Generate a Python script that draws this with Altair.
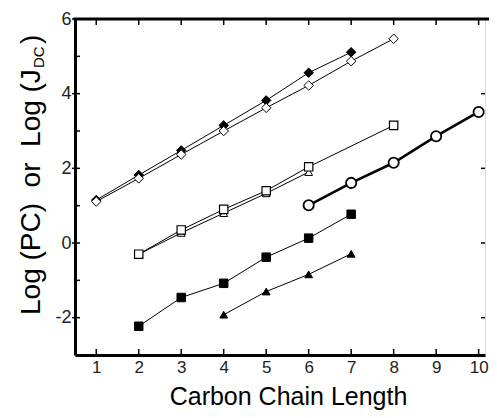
import altair as alt
import pandas as pd

# ---- data ----
a_x = [1, 2, 3, 4, 5, 6, 7]                      # filled diamonds
a_y = [1.15, 1.82, 2.48, 3.15, 3.82, 4.56, 5.11]
b_x = [1, 2, 3, 4, 5, 6, 7, 8]                   # open diamonds
b_y = [1.11, 1.73, 2.37, 3.00, 3.62, 4.22, 4.87, 5.47]
c_x = [2, 3, 4, 5, 6, 8]                         # open squares
c_y = [-0.30, 0.35, 0.90, 1.40, 2.04, 3.15]
d_x = [2, 3, 4, 5, 6]                            # open triangles
d_y = [-0.30, 0.27, 0.80, 1.33, 1.90]
e_x = [6, 7, 8, 9, 10]                           # open circles
e_y = [1.01, 1.61, 2.15, 2.86, 3.51]
f_x = [2, 3, 4, 5, 6, 7]                         # filled squares
f_y = [-2.23, -1.46, -1.08, -0.38, 0.13, 0.77]
g_x = [4, 5, 6, 7]                               # filled triangles
g_y = [-1.92, -1.30, -0.84, -0.29]

x_ticks = [1, 2, 3, 4, 5, 6, 7, 8, 9, 10]
y_major = [-2, 0, 2, 4, 6]
y_all = [-2, -1, 0, 1, 2, 3, 4, 5, 6]
x_title = "Carbon Chain Length"
y_title_main = "Log (PC)\u00a0\u00a0or\u00a0\u00a0Log (J"
y_title_sub = "DC"
y_title_end = ")"

W, H = 410, 336
FONT = "Liberation Sans"

xs = alt.Scale(domain=[0.5, 10.15], nice=False, zero=False)
ys = alt.Scale(domain=[-3, 6], nice=False, zero=False)

x_axis = alt.Axis(values=x_ticks, ticks=False, grid=False, domainColor="black",
                  domainWidth=3, labelFont=FONT, labelFontSize=17,
                  labelColor="#222", labelPadding=4, title=x_title, titleFont=FONT,
                  titleFontSize=25, titleFontWeight="normal", titleColor="black",
                  titleX=213, titleY=49, titleAlign="center", titleBaseline="alphabetic")
y_axis = alt.Axis(values=y_major, ticks=False, grid=False, domainColor="black",
                  domainWidth=3, labelFont=FONT, labelFontSize=18,
                  labelColor="#222", labelPadding=4, title=" ",
                  labelExpr="'' + datum.value")

X = dict(scale=xs, axis=x_axis)
Y = dict(scale=ys, axis=y_axis)


def series(xv, yv):
    return pd.DataFrame({"x": xv, "y": yv})


def line(df, sw=1.0):
    return alt.Chart(df).mark_line(color="black", strokeWidth=sw).encode(
        x=alt.X("x:Q", **X), y=alt.Y("y:Q", **Y))


def pts(df, shape, fill, size, sw=1.0):
    return alt.Chart(df).mark_point(shape=shape, filled=True, fill=fill, stroke="black",
                                    strokeWidth=sw, size=size, opacity=1).encode(
        x=alt.X("x:Q", **X), y=alt.Y("y:Q", **Y))


A, B, C, D = series(a_x, a_y), series(b_x, b_y), series(c_x, c_y), series(d_x, d_y)
E, F, G = series(e_x, e_y), series(f_x, f_y), series(g_x, g_y)

xt = pd.DataFrame({"x": x_ticks})
yt = pd.DataFrame({"y": y_all})
ym = pd.DataFrame({"y": y_major})

tick_style = dict(color="black", strokeWidth=1.5)
bottom_ticks = alt.Chart(xt).mark_rule(**tick_style).encode(
    x=alt.X("x:Q", **X), y=alt.value(H - 6), y2=alt.value(H))
top_ticks = alt.Chart(xt).mark_rule(**tick_style).encode(
    x=alt.X("x:Q", **X), y=alt.value(0), y2=alt.value(6))
left_ticks = alt.Chart(yt).mark_rule(**tick_style).encode(
    y=alt.Y("y:Q", **Y), x=alt.value(0), x2=alt.value(5))
left_major = alt.Chart(ym).mark_rule(**tick_style).encode(
    y=alt.Y("y:Q", **Y), x=alt.value(-3), x2=alt.value(0))
right_ticks = alt.Chart(ym).mark_rule(**tick_style).encode(
    y=alt.Y("y:Q", **Y), x=alt.value(W - 4), x2=alt.value(W))
top_line = alt.Chart(pd.DataFrame({"v": [0]})).mark_rule(color="black", strokeWidth=3).encode(
    x=alt.value(-1.5), x2=alt.value(W + 4), y=alt.value(0))

t_main = alt.Chart(pd.DataFrame({"t": [y_title_main]})).mark_text(
    angle=270, align="left", baseline="alphabetic", font=FONT, fontSize=28, color="black"
).encode(text="t:N", x=alt.value(-35), y=alt.value(296))
t_sub = alt.Chart(pd.DataFrame({"t": [y_title_sub]})).mark_text(
    angle=270, align="left", baseline="alphabetic", font=FONT, fontSize=15, color="black"
).encode(text="t:N", x=alt.value(-31), y=alt.value(49))
t_end = alt.Chart(pd.DataFrame({"t": [y_title_end]})).mark_text(
    angle=270, align="left", baseline="alphabetic", font=FONT, fontSize=28, color="black"
).encode(text="t:N", x=alt.value(-35), y=alt.value(25))

chart = alt.layer(
    line(A), line(B), line(C), line(D), line(E, 2.6), line(F), line(G),
    pts(A, "diamond", "black", 90), pts(B, "diamond", "white", 90),
    pts(D, "triangle-up", "white", 60), pts(C, "square", "white", 70, 1.2),
    pts(E, "circle", "white", 105, 1.8),
    pts(F, "square", "black", 72), pts(G, "triangle-up", "black", 60),
    bottom_ticks, top_ticks, left_ticks, left_major, right_ticks, top_line,
    t_main, t_sub, t_end,
).properties(
    width=W, height=H,
    autosize=alt.AutoSizeParams(type="none"),
    padding={"left": 67, "top": 11, "right": 4, "bottom": 55},
).configure_view(strokeWidth=0).configure(background="white")

chart.save("out.html", embed_options={"renderer": "svg", "actions": False})
